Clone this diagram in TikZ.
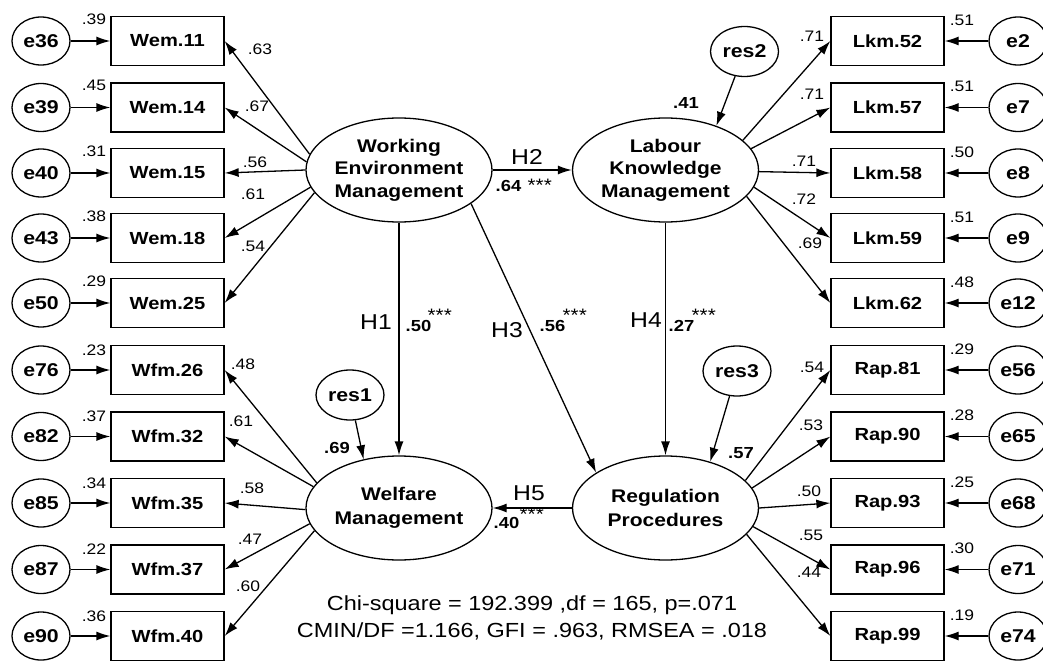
\documentclass[tikz,border=0pt]{standalone}
\usepackage{fontspec}
\setmainfont[FakeStretch=1.15]{Liberation Sans}
\usetikzlibrary{shapes.geometric,arrows.meta}
\begin{document}
\begin{tikzpicture}[x=1pt,y=-1pt,
  line width=1.3pt,
  arr/.style={-{Latex[length=14pt,width=9pt]}},
  obs/.style={draw, rectangle, minimum width=113pt, minimum height=49pt, inner sep=0pt, font=\bfseries\fontsize{17.5}{19}\selectfont},
  err/.style={draw, ellipse, minimum width=58pt, minimum height=48pt, inner sep=0pt, font=\bfseries\fontsize{18.5}{20}\selectfont},
  lat/.style={draw, ellipse, minimum width=186pt, minimum height=104pt, inner sep=0pt, align=center, font=\bfseries\fontsize{18.3}{22.5}\selectfont},
  resid/.style={draw, ellipse, minimum width=68pt, minimum height=50pt, inner sep=0pt, font=\bfseries\fontsize{18.5}{20}\selectfont},
  num/.style={inner sep=0pt, font=\fontsize{15.2}{17}\selectfont},
  coef/.style={inner sep=0pt, font=\bfseries\fontsize{16}{18}\selectfont},
  hyp/.style={inner sep=0pt, font=\fontsize{21.5}{23}\selectfont},
  stars/.style={inner sep=0pt, font=\fontsize{18}{19}\selectfont},
]
\useasboundingbox (0,0) rectangle (1043,663);

% latent variables
\node[lat] (wem) at (399,170) {Working\\Environment\\Management};
\node[lat] (lkm) at (665.5,170) {Labour\\Knowledge\\Management};
\node[lat, font=\bfseries\fontsize{18.3}{24}\selectfont] (wel) at (399,508) {Welfare\\Management};
\node[lat, font=\bfseries\fontsize{18.3}{24}\selectfont] (reg) at (665.5,508) {Regulation\\Procedures};

% residuals
\node[resid] (res1) at (350,395) {res1};
\node[resid] (res2) at (744.5,51.5) {res2};
\node[resid] (res3) at (737,371) {res3};
\draw[arr] (res1) -- (wel.126);
\draw[arr] (res2) -- (lkm.41);
\draw[arr] (res3) -- (reg.46);
\node[coef] (r1v) at (337,448) {.69};
\node[coef] (r2v) at (686,103) {.41};
\node[coef] (r3v) at (741,453) {.57};

% structural paths
\draw[arr] (wem.east) -- (lkm.west);
\draw[arr] (wem.south) -- (wel.north);
\draw[arr] (wem.-25) -- (reg.153);
\draw[arr] (lkm.south) -- (reg.north);
\draw[arr] (reg.west) -- (wel.east);

\node[hyp] (h2) at (527,157) {H2};
\node[coef, anchor=west] (h2v) at (495,186) {.64};
\node[stars, anchor=west] (h2s) at (527,185) {***};
\node[hyp] (h1) at (376,322) {H1};
\node[coef, anchor=west] (h1v) at (405,326) {.50};
\node[stars, anchor=west] (h1s) at (427,315) {***};
\node[hyp] (h3) at (507,330) {H3};
\node[coef, anchor=west] (h3v) at (539,326) {.56};
\node[stars, anchor=west] (h3s) at (562,315) {***};
\node[hyp] (h4) at (646,320) {H4};
\node[coef, anchor=west] (h4v) at (668,326) {.27};
\node[stars, anchor=west] (h4s) at (691,315) {***};
\node[hyp] (h5) at (529,493) {H5};
\node[coef, anchor=west] (h5v) at (493,523) {.40};
\node[stars, anchor=west] (h5s) at (519,514) {***};

% Working Environment Management indicators
\foreach \n/\y/\t/\e/\v/\a in {1/41/Wem.11/e36/.39/170, 2/107.5/Wem.14/e39/.45/175, 3/173/Wem.15/e40/.31/180, 4/238/Wem.18/e43/.38/191, 5/303/Wem.25/e50/.29/195} {
  \node[obs] (w\n) at (167.5,\y) {\t};
  \node[err] (ew\n) at (41,\y) {\e};
  \draw[arr] (ew\n) -- (w\n);
  \draw[arr] (wem.\a) -- (w\n.east);
  \node[num] (wv\n) at (94,{\y-22}) {\v};
}
\node[num] (wl1) at (260,49) {.63};
\node[num] (wl2) at (257,106) {.67};
\node[num] (wl3) at (255,162) {.56};
\node[num] (wl4) at (253,194) {.61};
\node[num] (wl5) at (253,246) {.54};

% Welfare Management indicators
\foreach \n/\y/\t/\e/\v/\a in {1/370/Wfm.26/e76/.23/163, 2/436.5/Wfm.32/e82/.37/166, 3/503/Wfm.35/e85/.34/181, 4/569.5/Wfm.37/e87/.22/190, 5/636/Wfm.40/e90/.36/195} {
  \node[obs] (f\n) at (167.5,\y) {\t};
  \node[err] (ef\n) at (41,\y) {\e};
  \draw[arr] (ef\n) -- (f\n);
  \draw[arr] (wel.\a) -- (f\n.east);
  \node[num] (fv\n) at (94,{\y-20}) {\v};
}
\node[num] (fl1) at (243,364) {.48};
\node[num] (fl2) at (241,421) {.61};
\node[num] (fl3) at (252,488) {.58};
\node[num] (fl4) at (250,539) {.47};
\node[num] (fl5) at (248,586) {.60};

% Labour Knowledge Management indicators
\foreach \n/\y/\t/\e/\v/\a in {1/41/Lkm.52/e2/.51/21, 2/107.5/Lkm.57/e7/.51/14, 3/173/Lkm.58/e8/.50/-1, 4/238/Lkm.59/e9/.51/-11, 5/303/Lkm.62/e12/.48/-18} {
  \node[obs] (k\n) at (887.5,\y) {\t};
  \node[err] (ek\n) at (1018,\y) {\e};
  \draw[arr] (ek\n) -- (k\n);
  \draw[arr] (lkm.\a) -- (k\n.west);
  \node[num] (kv\n) at (962,{\y-21}) {\v};
}
\node[num] (kl1) at (812,36) {.71};
\node[num] (kl2) at (812,94) {.71};
\node[num] (kl3) at (804,161) {.71};
\node[num] (kl4) at (804,199) {.72};
\node[num] (kl5) at (810,243) {.69};

% Regulation Procedures indicators
\foreach \n/\y/\t/\e/\v/\a in {1/370/Rap.81/e56/.29/19, 2/436.5/Rap.90/e65/.28/13, 3/503/Rap.93/e68/.25/0, 4/569.5/Rap.96/e71/.30/-12, 5/636/Rap.99/e74/.19/-18} {
  \node[obs] (p\n) at (887.5,\y) {\t};
  \node[err] (ep\n) at (1018,\y) {\e};
  \draw[arr] (ep\n) -- (p\n);
  \draw[arr] (reg.\a) -- (p\n.west);
  \node[num] (pv\n) at (962,{\y-21}) {\v};
}
\node[num] (pl1) at (812,367) {.54};
\node[num] (pl2) at (811,425) {.53};
\node[num] (pl3) at (809,491) {.50};
\node[num] (pl4) at (811,535) {.55};
\node[num] (pl5) at (809,572) {.44};

% fit statistics
\node[inner sep=0pt, align=center, font=\fontsize{20.4}{27}\selectfont] (fit) at (532,617.5)
  {Chi-square = 192.399 ,df = 165, p=.071\\CMIN/DF =1.166, GFI = .963, RMSEA = .018};
\end{tikzpicture}
\end{document}
